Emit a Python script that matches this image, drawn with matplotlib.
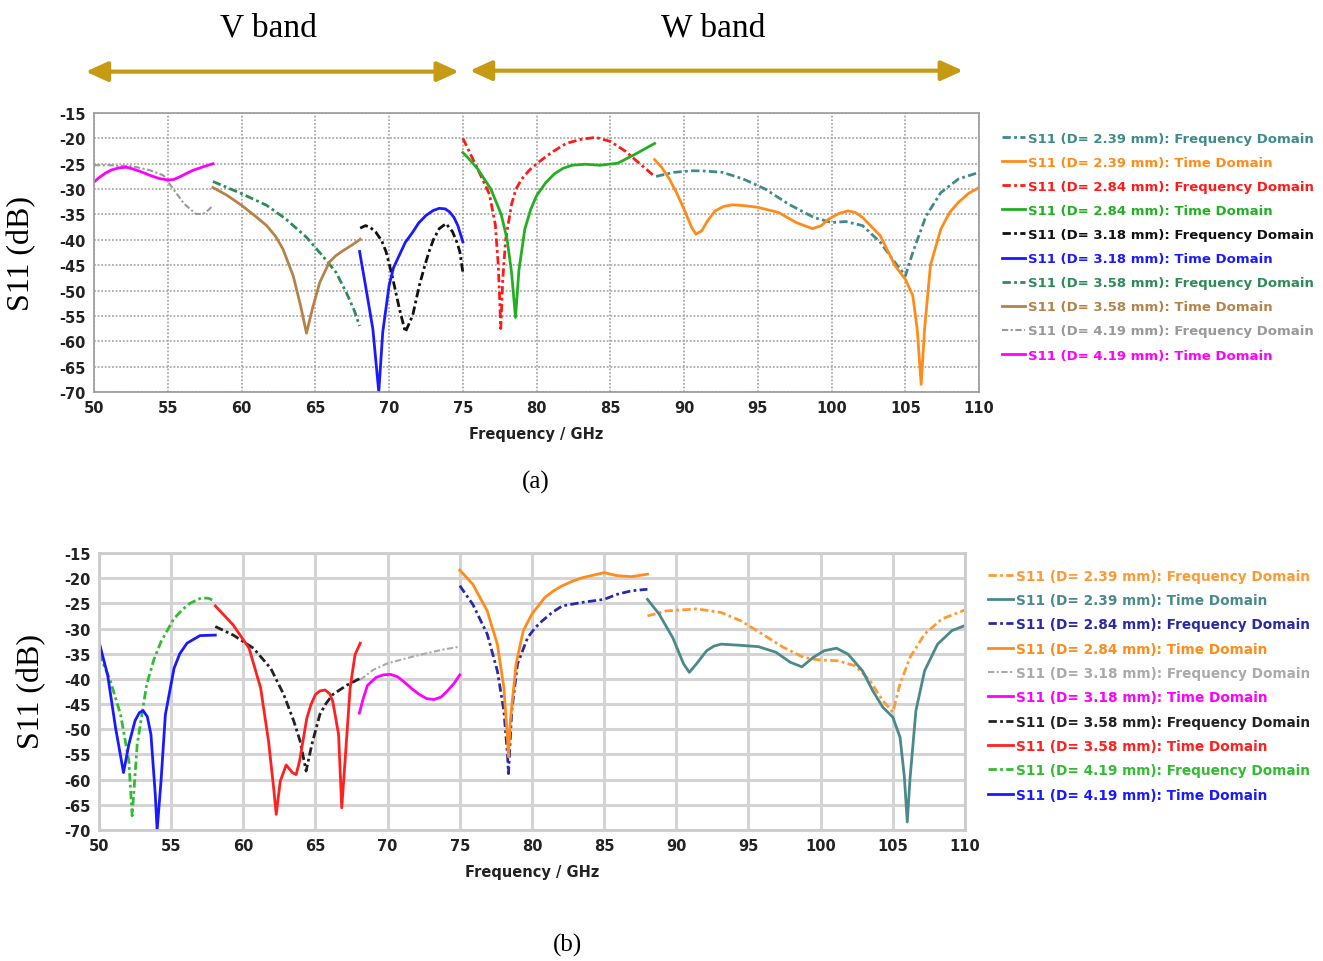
import matplotlib
matplotlib.use("Agg")
import matplotlib.pyplot as plt
from matplotlib.patches import FancyArrowPatch

plt.rcParams["axes.unicode_minus"] = False

# ---- panel (a) data ----
a_fd239_f = [88.1, 89.3, 90.5, 91.2, 92.6, 94, 95.5, 97.1, 98.8, 100, 100.95, 102.1, 103.3, 104.3, 105, 105.5, 106.4, 107.4, 108.6, 110]
a_fd239_s = [-27.5, -26.7, -26.4, -26.4, -26.7, -28, -30, -33, -35.6, -36.6, -36.4, -37.2, -40.5, -44.5, -47.1, -42.5, -35.3, -30.7, -28, -26.7]
a_td239_f = [88, 88.5, 89, 89.5, 90, 90.5, 90.8, 91.2, 91.6, 92.1, 92.7, 93.3, 94.2, 95, 96.4, 97.6, 98.7, 99.3, 99.8, 100.5, 101.1, 101.6, 102.1, 103.3, 104.3, 105, 105.5, 105.8, 106.07, 106.3, 106.7, 107.4, 108, 108.6, 109.3, 110]
a_td239_s = [-24.2, -25.8, -28, -30.8, -34, -37.5, -38.9, -38.2, -36.2, -34.3, -33.4, -33.1, -33.3, -33.6, -34.6, -36.6, -37.8, -37.2, -35.9, -34.8, -34.3, -34.6, -35.6, -39.2, -45.1, -47.8, -51, -57.6, -68.5, -57.6, -45, -37.9, -34.6, -32.6, -30.8, -29.7]
a_fd284_f = [75, 75.5, 76, 76.4, 76.8, 77.2, 77.4, 77.5, 77.57, 77.7, 77.9, 78.3, 78.6, 79, 79.5, 80, 81, 82, 83, 84, 85, 86, 87, 88]
a_fd284_s = [-20, -23, -26, -28.5, -31, -37, -45, -52, -57.5, -48, -40, -33, -30, -28, -26.3, -25, -22.8, -21, -20.2, -19.8, -20.6, -22.5, -25, -27.5]
a_td284_f = [75, 75.5, 76, 76.9, 77.6, 78, 78.3, 78.57, 78.8, 79.2, 79.6, 80, 80.6, 81.2, 81.8, 82.4, 83.3, 84.3, 85.5, 86.7, 88]
a_td284_s = [-22.8, -24.3, -26, -30, -35, -39.9, -46.4, -55.3, -46, -37.9, -34, -31.3, -28.8, -27, -25.9, -25.3, -25.1, -25.3, -24.9, -23.1, -21]
a_fd318_f = [68.04, 68.4, 68.7, 69.1, 69.5, 69.8, 70.2, 70.7, 71.1, 71.6, 72.05, 72.4, 72.7, 73.0, 73.4, 73.86, 74.3, 74.6, 74.8, 75]
a_fd318_s = [-37.7, -37.2, -37.5, -38.5, -40.2, -42.4, -47, -53.6, -58.2, -54.9, -49, -45.3, -42.4, -40, -37.8, -36.8, -38.4, -40.5, -42.4, -46.4]
a_td318_f = [68, 68.4, 68.9, 69.3, 69.57, 70, 70.3, 70.7, 71.1, 71.6, 72, 72.5, 73, 73.4, 73.8, 74.1, 74.4, 74.66, 75]
a_td318_s = [-42.3, -49, -57.6, -70, -58.2, -49, -45.5, -43, -40.5, -38.5, -36.7, -35.2, -34.2, -33.8, -33.9, -34.5, -35.6, -37.2, -40.4]
a_fd358_f = [58.06, 60, 61.7, 63, 64.4, 65.5, 66.4, 67.1, 67.65, 68]
a_fd358_s = [-28.5, -30.9, -33.2, -35.9, -39.5, -43.2, -46.4, -50.4, -54, -57]
a_td358_f = [58.06, 59, 60, 61, 61.7, 62.3, 62.8, 63.5, 64.0, 64.4, 64.8, 65.3, 65.95, 66.4, 66.9, 67.5, 68.04]
a_td358_s = [-29.7, -31.2, -33.2, -35.5, -37.2, -39.3, -41.8, -47.1, -53, -58.4, -53.6, -48.4, -44.4, -43.1, -42.1, -41, -39.9]
a_fd419_f = [50, 51.06, 52.6, 53.8, 54.7, 55.35, 56.1, 56.9, 57.4, 57.8, 58.06]
a_fd419_s = [-25.3, -25.3, -25.5, -26.3, -27.3, -29.9, -32.9, -34.9, -34.9, -34.0, -33.2]
a_td419_f = [50, 50.4, 50.8, 51.2, 51.7, 52.2, 52.6, 53.2, 53.8, 54.4, 55, 55.4, 55.8, 56.2, 56.7, 57.4, 58.06]
a_td419_s = [-28.6, -27.6, -26.8, -26.2, -25.8, -25.7, -26, -26.6, -27.3, -27.9, -28.2, -28.1, -27.6, -27, -26.3, -25.6, -25]

# ---- panel (b) data ----
b_fd239_f = [88, 89.3, 91.4, 93.1, 94.5, 95.95, 97.4, 98.8, 99.8, 101.2, 102.4, 103.4, 104.3, 105, 105.5, 106.2, 107.2, 108.4, 110]
b_fd239_s = [-27.5, -26.5, -26.1, -26.8, -28.5, -31.1, -33.7, -35.7, -36.2, -36.4, -37.4, -40.3, -44.3, -46.6, -41, -35.7, -31.1, -28.1, -26.3]
b_td239_f = [88, 88.8, 89.75, 90.5, 90.9, 91.4, 92.1, 92.6, 93.1, 94.3, 95.7, 96.9, 97.9, 98.7, 99.5, 100.25, 101.1, 101.9, 102.9, 103.6, 104.3, 105, 105.5, 105.8, 106, 106.2, 106.6, 107.2, 108.1, 109.1, 110]
b_td239_s = [-24.2, -27.1, -31.8, -37, -38.7, -37, -34.4, -33.5, -33.1, -33.3, -33.6, -34.7, -36.7, -37.6, -35.7, -34.4, -33.9, -35.1, -38.4, -42.3, -45.6, -47.6, -51.6, -59.5, -68.4, -59.5, -46.3, -38.4, -33.1, -30.4, -29.4]
b_fd284_f = [75, 75.9, 76.9, 77.6, 78.05, 78.3, 78.37, 78.6, 79, 79.7, 80.2, 80.7, 81.4, 82.1, 83.5, 85, 85.9, 86.9, 88]
b_fd284_s = [-21.5, -25.2, -31.1, -38.4, -46.3, -54.9, -58.8, -46.3, -37, -31.8, -29.9, -28.5, -26.8, -25.5, -24.8, -24.2, -23.2, -22.5, -22.2]
b_td284_f = [75, 75.9, 76.9, 77.6, 78.05, 78.3, 78.37, 78.5, 78.9, 79.4, 80, 80.9, 81.5, 82.1, 82.8, 83.5, 85, 85.9, 86.9, 88]
b_td284_s = [-18.4, -21.2, -26.5, -33.1, -41.7, -51.6, -55.5, -48.3, -37, -30.4, -27.1, -23.8, -22.5, -21.5, -20.6, -19.9, -18.9, -19.5, -19.7, -19.2]
b_fd318_f = [68.1, 69, 70, 71.3, 72.7, 73.8, 75]
b_fd318_s = [-40.2, -38.2, -36.9, -35.9, -34.9, -34.2, -33.6]
b_td318_f = [68.04, 68.3, 68.6, 69.2, 69.7, 70.2, 70.7, 71.1, 71.7, 72.2, 72.7, 73.2, 73.7, 74.1, 74.6, 75]
b_td318_s = [-46.8, -44, -41.3, -39.7, -39.2, -39.1, -39.6, -40.5, -42, -43.1, -43.9, -44.1, -43.6, -42.5, -40.9, -39.2]
b_fd358_f = [58.06, 59.3, 60.7, 61.9, 62.8, 63.5, 63.94, 64.35, 64.75, 65.3, 65.7, 66.2, 67.2, 68.1]
b_fd358_s = [-29.6, -31.3, -33.9, -37.9, -43.1, -48.4, -52.4, -58.3, -53, -47.1, -45, -43.1, -41.2, -39.9]
b_td358_f = [58.06, 59.3, 60.4, 61.2, 61.75, 62.1, 62.28, 62.56, 62.97, 63.4, 63.66, 63.9, 64.4, 64.7, 65, 65.3, 65.67, 66.0, 66.2, 66.6, 66.82, 67.05, 67.4, 67.74, 68.1]
b_td358_s = [-25.5, -29.3, -33.9, -41.8, -52.4, -61.6, -66.9, -60.3, -57.1, -58.6, -59, -56.3, -47.8, -45, -43.1, -42.4, -42.2, -43, -44.5, -51, -65.6, -56.3, -41.8, -35.2, -32.9]
b_fd419_f = [50, 50.8, 51.5, 52.07, 52.3, 52.65, 53.3, 53.8, 54.3, 55.2, 55.8, 56.3, 57.1, 57.6, 58.06]
b_fd419_s = [-34.9, -40.5, -47.1, -56.3, -67.2, -53, -41.2, -36.2, -32.6, -28, -26.2, -25, -23.9, -24, -24.6]
b_td419_f = [50, 50.6, 51.15, 51.7, 52.07, 52.5, 52.8, 53.06, 53.35, 53.6, 53.9, 54.03, 54.3, 54.6, 55.2, 55.6, 56.1, 57, 58.06]
b_td419_s = [-32.6, -39.2, -49.7, -58.6, -53, -48.3, -46.7, -46.3, -47.5, -51, -62.9, -70, -60.3, -47.1, -37.9, -35, -32.9, -31.4, -31.3]

xticks = list(range(50, 111, 5))
yticks = list(range(-70, -14, 5))

FD = (0, (3, 1.2, 1, 1.2))


def setup(ax, grid_style):
    ax.set_xlim(50, 110)
    ax.set_ylim(-70, -15)
    ax.set_xticks(xticks)
    ax.set_yticks(yticks)
    ax.set_xticklabels([str(t) for t in xticks], fontsize=10.5, fontweight="bold", color="#222222")
    ax.set_yticklabels([str(t) for t in yticks], fontsize=10.5, fontweight="bold", color="#222222")
    ax.tick_params(length=0, pad=6)
    if grid_style == "dotted":
        ax.grid(True, color="#aaaaaa", ls=(0, (1, 1)), lw=1.3)
        for s in ax.spines.values():
            s.set_color("#999999")
            s.set_linewidth(1.2)
    else:
        ax.grid(True, color="#d4d4d4", ls="-", lw=2.2)
        for s in ax.spines.values():
            s.set_color("#cccccc")
            s.set_linewidth(2)
    ax.set_axisbelow(True)
    ax.set_xlabel("Frequency / GHz", fontsize=10.5, fontweight="bold", color="#222222", labelpad=8)


fig = plt.figure(figsize=(13.23, 9.62), dpi=100)
ax1 = fig.add_axes([0.0711, 0.5915, 0.669, 0.29])
ax2 = fig.add_axes([0.0748, 0.1362, 0.6546, 0.2879])

# panel (a)
ax1.plot(a_fd239_f, a_fd239_s, color="#3f8a8a", ls=FD, lw=2, label="S11 (D= 2.39 mm): Frequency Domain")
ax1.plot(a_td239_f, a_td239_s, color="#ff8c1a", lw=2, label="S11 (D= 2.39 mm): Time Domain")
ax1.plot(a_fd284_f, a_fd284_s, color="#ff1a1a", ls=FD, lw=2, label="S11 (D= 2.84 mm): Frequency Domain")
ax1.plot(a_td284_f, a_td284_s, color="#22b022", lw=2, label="S11 (D= 2.84 mm): Time Domain")
ax1.plot(a_fd318_f, a_fd318_s, color="#111111", ls=FD, lw=2, label="S11 (D= 3.18 mm): Frequency Domain")
ax1.plot(a_td318_f, a_td318_s, color="#1a1aff", lw=2, label="S11 (D= 3.18 mm): Time Domain")
ax1.plot(a_fd358_f, a_fd358_s, color="#2e8b57", ls=FD, lw=2, label="S11 (D= 3.58 mm): Frequency Domain")
ax1.plot(a_td358_f, a_td358_s, color="#b5834a", lw=2, label="S11 (D= 3.58 mm): Time Domain")
ax1.plot(a_fd419_f, a_fd419_s, color="#999999", ls=FD, lw=1.5, label="S11 (D= 4.19 mm): Frequency Domain")
ax1.plot(a_td419_f, a_td419_s, color="#ff00ff", lw=2, label="S11 (D= 4.19 mm): Time Domain")
setup(ax1, "dotted")

# panel (b)
ax2.plot(b_fd239_f, b_fd239_s, color="#ff9933", ls=FD, lw=2, label="S11 (D= 2.39 mm): Frequency Domain")
ax2.plot(b_td239_f, b_td239_s, color="#4a8a8a", lw=2, label="S11 (D= 2.39 mm): Time Domain")
ax2.plot(b_fd284_f, b_fd284_s, color="#2a2aa8", ls=FD, lw=2, label="S11 (D= 2.84 mm): Frequency Domain")
ax2.plot(b_td284_f, b_td284_s, color="#ff8c1a", lw=2, label="S11 (D= 2.84 mm): Time Domain")
ax2.plot(b_fd318_f, b_fd318_s, color="#aaaaaa", ls=FD, lw=1.5, label="S11 (D= 3.18 mm): Frequency Domain")
ax2.plot(b_td318_f, b_td318_s, color="#ff00ff", lw=2, label="S11 (D= 3.18 mm): Time Domain")
ax2.plot(b_fd358_f, b_fd358_s, color="#222222", ls=FD, lw=2, label="S11 (D= 3.58 mm): Frequency Domain")
ax2.plot(b_td358_f, b_td358_s, color="#ff2020", lw=2, label="S11 (D= 3.58 mm): Time Domain")
ax2.plot(b_fd419_f, b_fd419_s, color="#33bb33", ls=FD, lw=2, label="S11 (D= 4.19 mm): Frequency Domain")
ax2.plot(b_td419_f, b_td419_s, color="#1a1aff", lw=2, label="S11 (D= 4.19 mm): Time Domain")
setup(ax2, "solid")

for ax, anchor, size, sp in [(ax1, (0.757, 0.862), 9.5, 0.84), (ax2, (0.747, 0.408), 9.8, 0.76)]:
    leg = ax.legend(loc="upper left", bbox_to_anchor=anchor, bbox_transform=fig.transFigure,
                    frameon=False, labelcolor="linecolor", handlelength=1.8, handletextpad=0.2,
                    labelspacing=sp, borderpad=0, borderaxespad=0,
                    prop={"size": size, "weight": "bold"})

# y labels
fig.text(0.0166, 0.737, "S11 (dB)", rotation=90, ha="center", va="center",
         family="Liberation Serif", fontsize=23)
fig.text(0.0242, 0.281, "S11 (dB)", rotation=90, ha="center", va="center",
         family="Liberation Serif", fontsize=23)

# band headers and arrows
fig.text(0.2026, 0.971, "V band", ha="center", va="center", family="Liberation Serif", fontsize=24)
fig.text(0.539, 0.971, "W band", ha="center", va="center", family="Liberation Serif", fontsize=24)
for x0, x1, y in [(0.0627, 0.349, 0.9245), (0.353, 0.730, 0.9255)]:
    arr = FancyArrowPatch((x0, y), (x1, y), transform=fig.transFigure,
                          arrowstyle="<|-|>,head_length=1.1,head_width=0.5",
                          mutation_scale=12, color="#c69a12", lw=3)
    fig.patches.append(arr)

fig.text(0.405, 0.499, "(a)", ha="center", va="center", family="Liberation Serif", fontsize=18)
fig.text(0.4286, 0.0177, "(b)", ha="center", va="center", family="Liberation Serif", fontsize=18)

fig.savefig("out.png", dpi=100)
